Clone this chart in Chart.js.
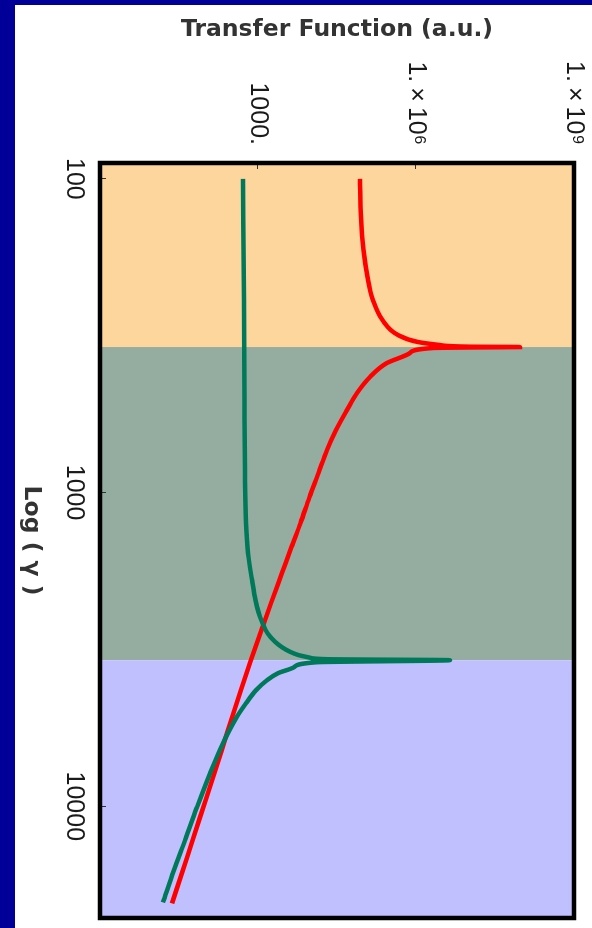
<!DOCTYPE html>
<html>
<head>
<meta charset="utf-8">
<script src="https://cdn.jsdelivr.net/npm/chart.js@4.4.1/dist/chart.umd.min.js"></script>
<style>
  html, body { margin: 0; padding: 0; width: 592px; height: 928px; overflow: hidden; background: #000099; }
  /* The plot is laid out as an ordinary chart and turned a quarter turn clockwise. */
  #frame {
    position: absolute; left: 0; top: 0;
    width: 923px; height: 577px;
    background: #ffffff;
    transform-origin: 0 0;
    transform: translate(592px, 5px) rotate(90deg);
  }
  canvas { display: block; }
</style>
</head>
<body>
<div id="frame"><canvas id="chart" width="923" height="577"></canvas></div>
<script>
// Transfer function of the two modes versus gamma
const gammaRed = [100, 132.2, 168.5, 205.4, 243.2, 281.8, 314.6, 331.2, 338.6, 342.7, 343.6, 344.7, 346, 358.9, 386.3, 428.2, 481.6, 545.6, 631.9, 731.8, 866.8, 1033.7, 1251, 1492.5, 1806.5, 2251.6, 2685.3, 3421.7, 4266, 5722.5, 7847, 10842, 14544, 20391];
const tfRed = [86400, 90200, 100700, 119900, 152500, 231000, 455000, 1090000, 2850000, 10600000, 94200000, 10600000, 2100000, 769000, 281000, 133800, 75800, 48900, 30250, 20400, 14080, 9500, 6410, 4320, 2854, 1765, 1217, 736, 475, 269, 149, 79.2, 44.9, 23.3];

const gammaGreen = [100, 243.2, 506.9, 847.6, 1251, 1560, 1944, 2203, 2406, 2609, 2807, 2988, 3111, 3216, 3299, 3360, 3398, 3422, 3473, 3603, 3765, 3964, 4266, 4694, 5240, 6295, 7847, 10074, 12841, 16002, 20240];
const tfGreen = [519, 542, 554, 566, 592, 646, 786, 896, 1022, 1217, 1514, 2102, 2854, 4050, 6002, 9707, 21320, 4420000, 13180, 4823, 2396, 1482, 916, 592, 382, 216, 123, 69.4, 41.1, 25.4, 15.7];

// Gamma values where the shaded regimes change
const regimeEdges = [343.6, 3422];

const gammaTicks = [100, 1000, 10000];
const gammaTickLabels = ['100', '1000', '10000'];
const tfTicks = [1000, 1e6, 1e9];
const tfTickLabels = ['1000.', '1.\u2009\u00d7\u200910\u2076', '1.\u2009\u00d7\u200910\u2079'];

const gammaRange = [89, 22700];
const tfRange = [1, 1e9];

const toPoints = (xs, ys) => xs.map((x, i) => ({ x: x, y: ys[i] }));

const regimeShading = {
  id: 'regimeShading',
  beforeDraw(chart) {
    const { ctx, chartArea: a, scales: { x } } = chart;
    const fills = ['#FDD69E', '#94ADA0', '#C0C0FF'];
    const edges = [gammaRange[0], ...regimeEdges, gammaRange[1]];
    ctx.save();
    for (let i = 0; i < fills.length; i++) {
      const x0 = Math.max(a.left, x.getPixelForValue(edges[i]));
      const x1 = Math.min(a.right, x.getPixelForValue(edges[i + 1]));
      ctx.fillStyle = fills[i];
      ctx.fillRect(x0, a.top, x1 - x0, a.bottom - a.top);
    }
    ctx.restore();
  }
};

const plotFrame = {
  id: 'plotFrame',
  afterDatasetsDraw(chart) {
    const { ctx, chartArea: a } = chart;
    ctx.save();
    ctx.strokeStyle = '#000000';
    ctx.lineWidth = 4.5;
    ctx.strokeRect(a.left, a.top, a.right - a.left, a.bottom - a.top);
    ctx.restore();
  }
};

const tickFont = { family: "'Liberation Sans', Arial, sans-serif", size: 25 };
const titleFont = { family: "'DejaVu Sans', Verdana, sans-serif", size: 23.5, weight: 'bold' };

new Chart(document.getElementById('chart'), {
  type: 'line',
  data: {
    datasets: [
      {
        label: 'green',
        data: toPoints(gammaGreen, tfGreen),
        borderColor: '#00785A',
        borderWidth: 4.5,
        pointRadius: 0,
        fill: false,
        cubicInterpolationMode: 'monotone'
      },
      {
        label: 'red',
        data: toPoints(gammaRed, tfRed),
        borderColor: '#FF0000',
        borderWidth: 4.5,
        pointRadius: 0,
        fill: false,
        cubicInterpolationMode: 'monotone'
      }
    ]
  },
  options: {
    responsive: false,
    animation: false,
    events: [],
    layout: { padding: { left: 0, right: 10, top: 18, bottom: 0 } },
    plugins: { legend: { display: false }, tooltip: { enabled: false } },
    scales: {
      x: {
        type: 'logarithmic',
        position: 'bottom',
        min: gammaRange[0],
        max: gammaRange[1],
        afterBuildTicks: s => { s.ticks = gammaTicks.map(v => ({ value: v })); },
        afterFit: s => { s.height = 85; s.paddingLeft = 0; s.paddingRight = 0; },
        border: { display: false },
        grid: { drawOnChartArea: false, drawTicks: true, tickLength: -6, color: '#333333', lineWidth: 1 },
        ticks: {
          autoSkip: false, minRotation: 0, maxRotation: 0, padding: 17,
          color: '#1a1a1a', font: tickFont,
          callback: v => { const i = gammaTicks.indexOf(v); return i < 0 ? '' : gammaTickLabels[i]; }
        },
        title: { display: true, text: 'Log ( \u03b3 )', color: '#333333', font: titleFont, padding: { top: 0, bottom: 2 } }
      },
      y: {
        type: 'logarithmic',
        position: 'left',
        min: tfRange[0],
        max: tfRange[1],
        afterBuildTicks: s => { s.ticks = tfTicks.map(v => ({ value: v })); },
        afterFit: s => { s.width = 158; s.paddingTop = 0; s.paddingBottom = 0; },
        border: { display: false },
        grid: { drawOnChartArea: false, drawTicks: true, tickLength: -6, color: '#333333', lineWidth: 1 },
        ticks: {
          autoSkip: false, padding: 24,
          color: '#1a1a1a', font: tickFont,
          callback: v => { const i = tfTicks.indexOf(v); return i < 0 ? '' : tfTickLabels[i]; }
        },
        title: { display: true, text: 'Transfer Function (a.u.)', color: '#333333', font: titleFont, padding: { top: 11, bottom: 0 } }
      }
    }
  },
  plugins: [regimeShading, plotFrame]
});
</script>
</body>
</html>
